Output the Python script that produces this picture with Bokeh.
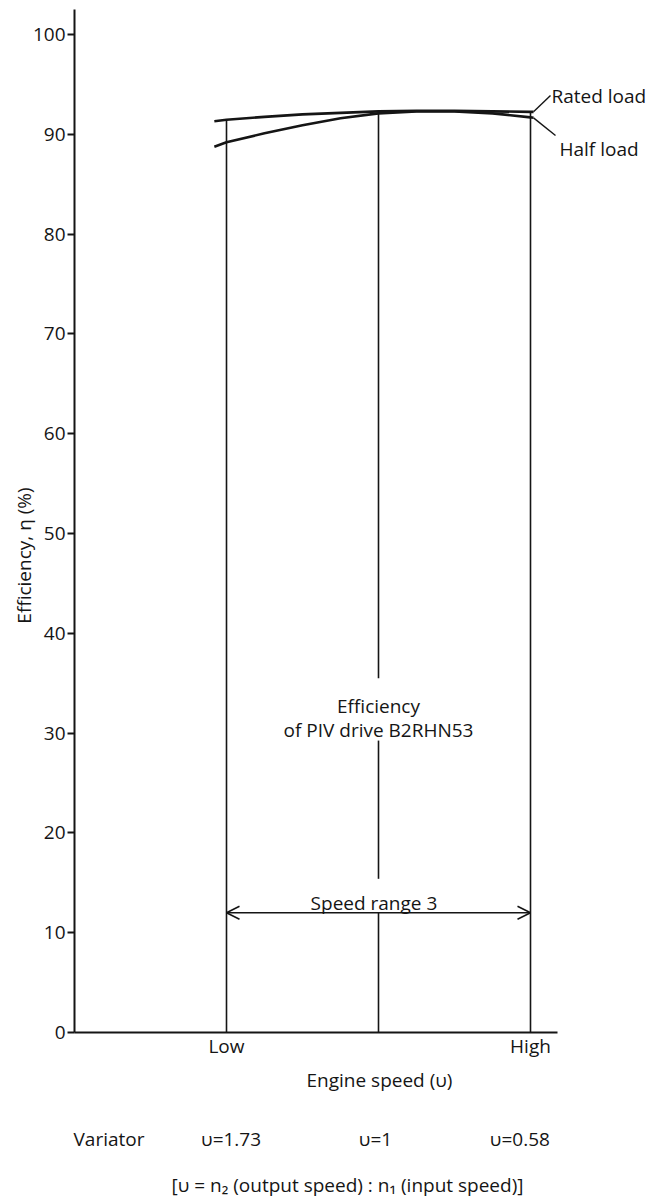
import numpy as np
from bokeh.plotting import figure
from bokeh.models import Range1d, FixedTicker, Label, Arrow, OpenHead
from bokeh.embed import file_html
from bokeh.resources import INLINE

# ---------------- data ----------------
speed_x = [0.92, 1.0, 1.25, 1.5, 1.75, 2.0, 2.25, 2.5, 2.75, 3.0, 3.02]
rated_load = [91.3, 91.45, 91.75, 92.0, 92.15, 92.3, 92.35, 92.35, 92.3, 92.25, 92.25]
half_load = [88.75, 89.2, 90.1, 90.9, 91.6, 92.1, 92.3, 92.3, 92.1, 91.7, 91.65]
y_ticks = [0, 10, 20, 30, 40, 50, 60, 70, 80, 90, 100]
speed_positions = [1, 2, 3]
x_tick_labels = {1: "Low", 3: "High"}
variator_labels = ["υ=1.73", "υ=1", "υ=0.58"]
speed_range_label = "Speed range 3"
speed_range_level = 12.0
y_axis_top = 102.5
x_axis_end = 3.18

# ---------------- layout ----------------
W, H = 647, 1198
XS, YS = 152.0, 9.98          # pixels per data unit
X0, Y0 = 74, 1032             # canvas position of the data origin
FONT = "Open Sans"
INK = "#151515"
FS = "19px"

p = figure(width=W, height=H, output_backend="svg", toolbar_location=None,
           x_range=Range1d(-X0 / XS, (W - X0) / XS),
           y_range=Range1d(-(H - Y0) / YS, Y0 / YS),
           min_border=0)
p.outline_line_color = None
p.xgrid.visible = False
p.ygrid.visible = False
p.background_fill_color = "white"
p.border_fill_color = "white"

# y axis (drawn at x = 0, limited to 0..top)
ya = p.yaxis[0]
ya.fixed_location = 0
ya.bounds = (0, y_axis_top)
ya.ticker = FixedTicker(ticks=y_ticks)
ya.major_tick_out = 7
ya.major_tick_in = 0
ya.minor_tick_line_color = None
ya.axis_line_width = 2
ya.axis_line_color = INK
ya.major_tick_line_width = 2
ya.major_tick_line_color = INK
ya.major_label_text_font = FONT
ya.major_label_text_font_size = FS
ya.major_label_text_color = INK
ya.major_label_standoff = 2

# x axis (drawn at y = 0)
xa = p.xaxis[0]
xa.fixed_location = 0
xa.bounds = (0, x_axis_end)
xa.ticker = FixedTicker(ticks=list(x_tick_labels.keys()))
xa.major_label_overrides = {k: v for k, v in x_tick_labels.items()}
xa.major_tick_out = 0
xa.major_tick_in = 0
xa.minor_tick_line_color = None
xa.axis_line_width = 2
xa.axis_line_color = INK
xa.major_label_text_font = FONT
xa.major_label_text_font_size = FS
xa.major_label_text_color = INK
xa.major_label_standoff = 0

# curves
p.line(speed_x, rated_load, line_width=2.6, line_color=INK)
p.line(speed_x, half_load, line_width=2.6, line_color=INK)

# vertical lines at the three speeds
tops = [float(np.interp(x, speed_x, rated_load)) for x in speed_positions]
p.segment(x0=[speed_positions[0], speed_positions[2]], y0=[0, 0],
          x1=[speed_positions[0], speed_positions[2]], y1=[tops[0], tops[2]],
          line_width=1.6, line_color=INK)
mid = speed_positions[1]
p.segment(x0=[mid, mid, mid], y0=[35.5, 15.4, 0],
          x1=[mid, mid, mid], y1=[tops[1], 29.25, speed_range_level],
          line_width=1.6, line_color=INK)

# speed range arrow
p.add_layout(Arrow(start=OpenHead(size=13, line_width=1.6, line_color=INK),
                   end=OpenHead(size=13, line_width=1.6, line_color=INK),
                   x_start=speed_positions[0], y_start=speed_range_level,
                   x_end=speed_positions[2], y_end=speed_range_level,
                   line_width=1.6, line_color=INK))


def px(xp):   # page x -> data
    return (xp - X0) / XS


def py(yp):   # page y -> data
    return (Y0 - yp) / YS


def lab(text, x, y, align="center", baseline="alphabetic", angle=0.0, size=FS):
    p.add_layout(Label(text=text, x=x, y=y, angle=angle,
                       text_align=align, text_baseline=baseline, text_font=FONT,
                       text_font_size=size, text_color=INK))


lab(speed_range_label, mid - 0.03, py(902))
lab("Efficiency", mid, py(705))
lab("of PIV drive B2RHN53", mid, py(729))

# leader lines and curve labels
xr_end, yr_end = speed_x[-1], rated_load[-1]
xh_end, yh_end = speed_x[-1], half_load[-1]
p.segment(x0=[xr_end, xh_end], y0=[yr_end, yh_end],
          x1=[px(550), px(555)], y1=[py(95), py(135)],
          line_width=1.4, line_color=INK)
lab("Rated load", px(551), py(95), align="left")
lab("Half load", px(559), py(148), align="left")

# y axis title (rotated)
lab("Efficiency, η (%)", px(23), py(555), angle=np.pi / 2)

# texts below the axis
lab("Engine speed (υ)", px(379), py(1079))
lab("Variator", px(73), py(1138), align="left")
for xpos, shift, t in zip(speed_positions, [0.03, -0.02, -0.07], variator_labels):
    lab(t, xpos + shift, py(1138))
lab("[υ = n₂ (output speed) : n₁ (input speed)]", px(347), py(1184))

open("out.html", "w").write(file_html(p, INLINE))
